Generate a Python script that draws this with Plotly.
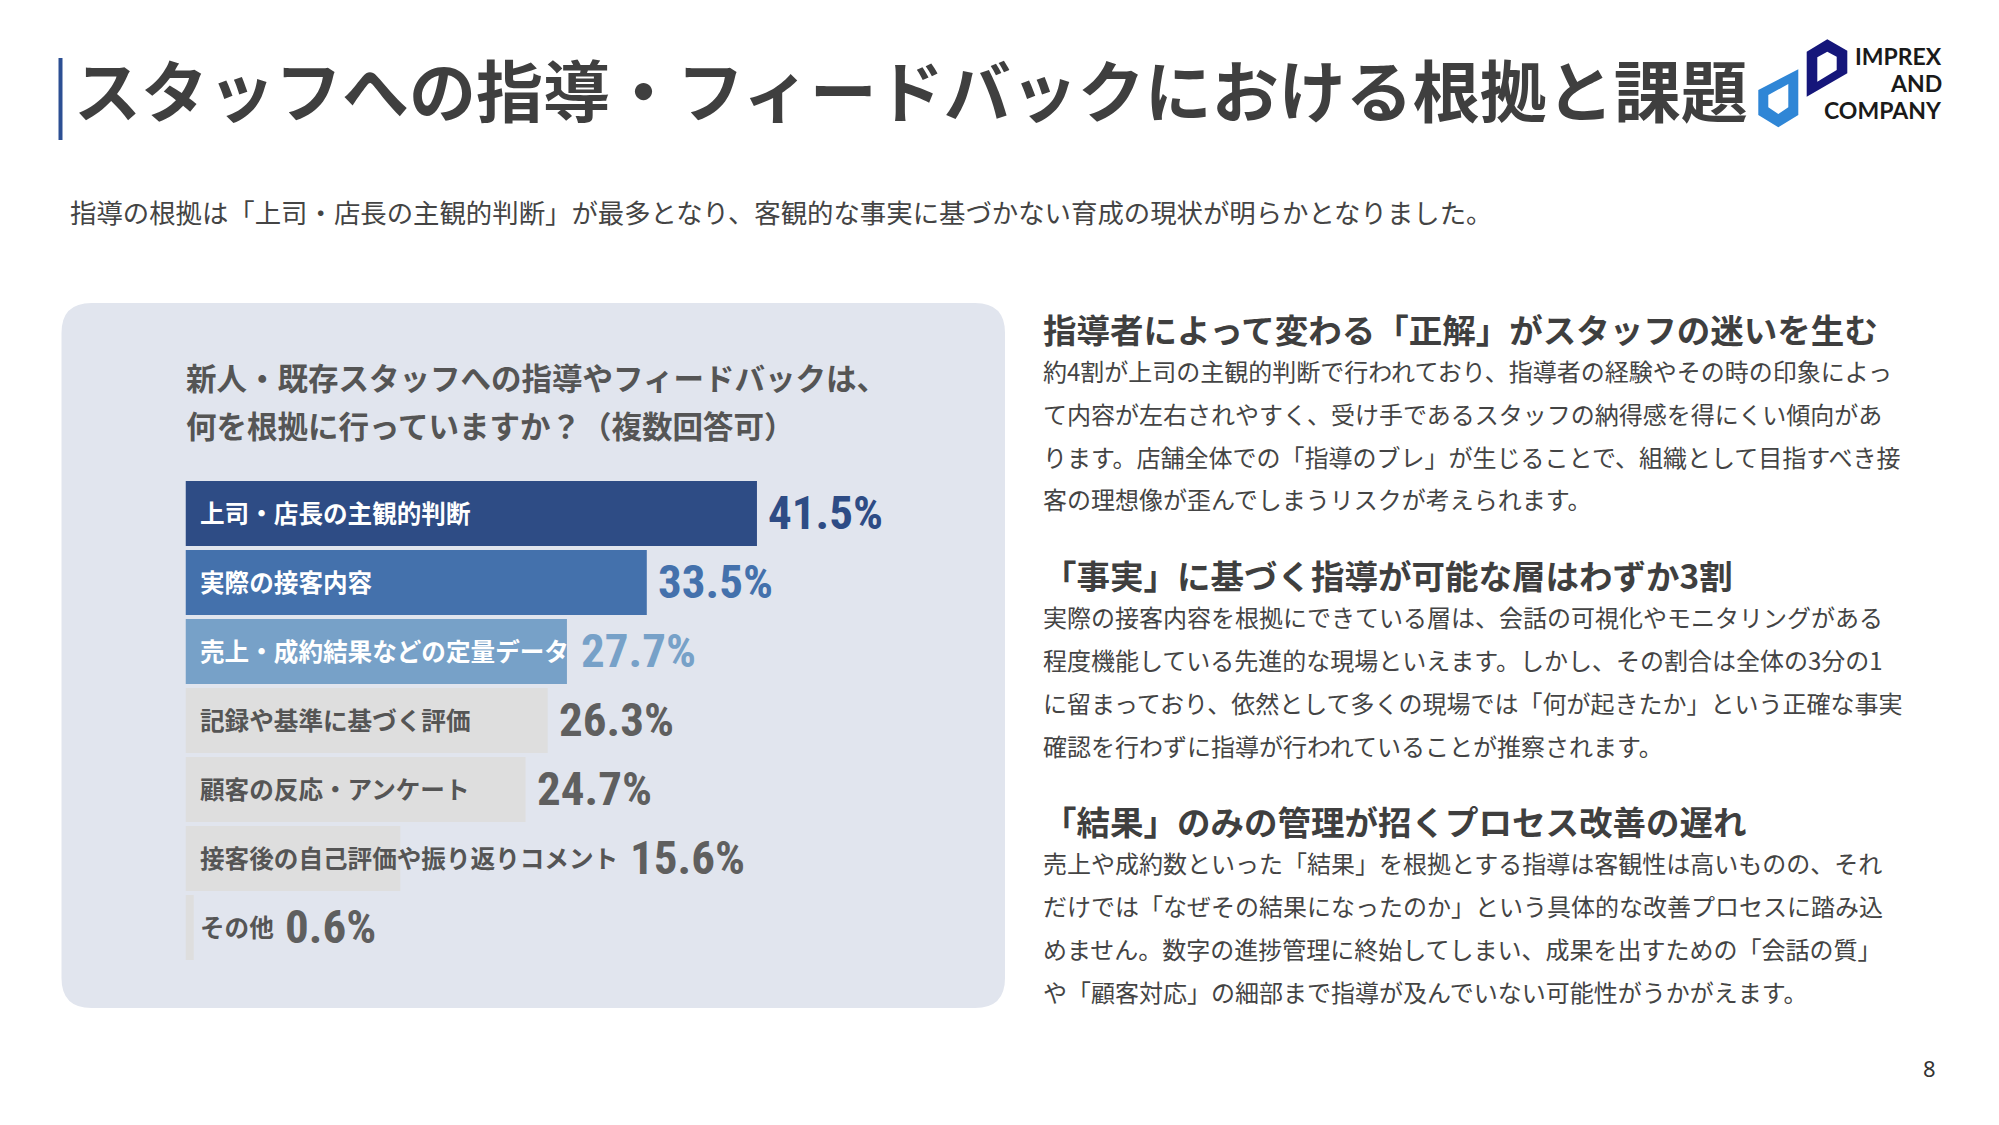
import plotly.graph_objects as go

W, H = 1999, 1125

# ---- data ----
categories = [
    "上司・店長の主観的判断",
    "実際の接客内容",
    "売上・成約結果などの定量データ",
    "記録や基準に基づく評価",
    "顧客の反応・アンケート",
    "接客後の自己評価や振り返りコメント",
    "その他",
]
values = [41.5, 33.5, 27.7, 26.3, 24.7, 15.6, 0.6]

title_text = "スタッフへの指導・フィードバックにおける根拠と課題"
lead_text = "指導の根拠は「上司・店長の主観的判断」が最多となり、客観的な事実に基づかない育成の現状が明らかとなりました。"
question_lines = ["新人・既存スタッフへの指導やフィードバックは、", "何を根拠に行っていますか？（複数回答可）"]

headings = [
    "指導者によって変わる「正解」がスタッフの迷いを生む",
    "「事実」に基づく指導が可能な層はわずか3割",
    "「結果」のみの管理が招くプロセス改善の遅れ",
]
sec1_lines = [
    "約4割が上司の主観的判断で行われており、指導者の経験やその時の印象によっ",
    "て内容が左右されやすく、受け手であるスタッフの納得感を得にくい傾向があ",
    "ります。店舗全体での「指導のブレ」が生じることで、組織として目指すべき接",
    "客の理想像が歪んでしまうリスクが考えられます。",
]
sec2_lines = [
    "実際の接客内容を根拠にできている層は、会話の可視化やモニタリングがある",
    "程度機能している先進的な現場といえます。しかし、その割合は全体の3分の1",
    "に留まっており、依然として多くの現場では「何が起きたか」という正確な事実",
    "確認を行わずに指導が行われていることが推察されます。",
]
sec3_lines = [
    "売上や成約数といった「結果」を根拠とする指導は客観性は高いものの、それ",
    "だけでは「なぜその結果になったのか」という具体的な改善プロセスに踏み込",
    "めません。数字の進捗管理に終始してしまい、成果を出すための「会話の質」",
    "や「顧客対応」の細部まで指導が及んでいない可能性がうかがえます。",
]
page_no = "8"

# ---- styles ----
JP = "Noto Sans CJK JP, Noto Sans, sans-serif"
NUM = "Roboto Condensed, Open Sans Condensed, Roboto, sans-serif"
bar_colors = ["#2e4c85", "#4471ac", "#77a1c8", "#dedede", "#dedede", "#dedede", "#dedede"]
label_colors = ["white", "white", "white", "#555555", "#555555", "#555555", "#555555"]
value_colors = ["#2e4c85", "#4471ac", "#77a1c8", "#5f5f5f", "#5f5f5f", "#5f5f5f", "#5f5f5f"]


def fx(x):
    return x / W


def fy(y):
    return 1 - y / H


# plot area in pixels
X0, X_RANGE, PX_PER = 185.5, 50, 13.77
X1 = X0 + X_RANGE * PX_PER
Y_TOP, Y_BOT = 479, 962

fig = go.Figure()

fig.add_trace(
    go.Bar(
        x=values,
        y=categories,
        orientation="h",
        marker=dict(color=bar_colors, line=dict(width=0)),
        hoverinfo="skip",
        showlegend=False,
    )
)

annotations = []

LABEL_SIZE = 24.6
LABEL_PAD = 12
for cat, v, lc, vc in zip(categories, values, label_colors, value_colors):
    annotations.append(dict(
        x=0, y=cat, xref="x", yref="y", text=cat, showarrow=False,
        xanchor="left", yanchor="middle", xshift=LABEL_PAD, yshift=2,
        font=dict(family=JP, size=LABEL_SIZE, color=lc, weight="bold")))
    label_end = LABEL_PAD + len(cat) * LABEL_SIZE
    start = max(v * PX_PER + 9, label_end + 12)
    annotations.append(dict(
        x=0, y=cat, xref="x", yref="y", text=f"{v}%", showarrow=False,
        xanchor="left", yanchor="middle", xshift=start, yshift=1,
        font=dict(family=NUM, size=47, color=vc, weight="bold")))

# title, lead
annotations.append(dict(
    x=fx(72), y=fy(87), xref="paper", yref="paper", text=title_text, showarrow=False,
    xanchor="left", yanchor="middle",
    font=dict(family=JP, size=67, color="#3f3f3f", weight="bold")))
annotations.append(dict(
    x=fx(68), y=fy(212), xref="paper", yref="paper", text=lead_text, showarrow=False,
    xanchor="left", yanchor="middle",
    font=dict(family=JP, size=26.4, color="#444444")))

# question
for i, line in enumerate(question_lines):
    annotations.append(dict(
        x=fx(184), y=fy(377 + 48 * i), xref="paper", yref="paper", text=line, showarrow=False,
        xanchor="left", yanchor="middle",
        font=dict(family=JP, size=30.5, color="#555555", weight="bold")))

# right column
for k, (head, lines) in enumerate(zip(headings, [sec1_lines, sec2_lines, sec3_lines])):
    hy = 328 + 246 * k
    annotations.append(dict(
        x=fx(1041), y=fy(hy), xref="paper", yref="paper", text=head, showarrow=False,
        xanchor="left", yanchor="middle",
        font=dict(family=JP, size=33.5, color="#3f3f3f", weight="bold")))
    for i, line in enumerate(lines):
        annotations.append(dict(
            x=fx(1041), y=fy(hy + 42 + 43 * i), xref="paper", yref="paper", text=line,
            showarrow=False, xanchor="left", yanchor="middle",
            font=dict(family=JP, size=24, color="#444444")))

# logo text
for i, word in enumerate(["IMPREX", "AND", "COMPANY"]):
    annotations.append(dict(
        x=fx(1944), y=fy(56 + 27 * i), xref="paper", yref="paper", text=word, showarrow=False,
        xanchor="right", yanchor="middle",
        font=dict(family="Lato, Noto Sans, sans-serif", size=23, color="#1a1a1a", weight="bold")))

annotations.append(dict(
    x=fx(1938), y=fy(1068), xref="paper", yref="paper", text=page_no, showarrow=False,
    xanchor="right", yanchor="middle",
    font=dict(family="Noto Sans, sans-serif", size=22, color="#333333")))


# rounded grey panel behind the chart
def rounded(x0, y0, x1, y1, r):
    pts = [
        f"M {fx(x0 + r)},{fy(y0)}",
        f"L {fx(x1 - r)},{fy(y0)}",
        f"Q {fx(x1)},{fy(y0)} {fx(x1)},{fy(y0 + r)}",
        f"L {fx(x1)},{fy(y1 - r)}",
        f"Q {fx(x1)},{fy(y1)} {fx(x1 - r)},{fy(y1)}",
        f"L {fx(x0 + r)},{fy(y1)}",
        f"Q {fx(x0)},{fy(y1)} {fx(x0)},{fy(y1 - r)}",
        f"L {fx(x0)},{fy(y0 + r)}",
        f"Q {fx(x0)},{fy(y0)} {fx(x0 + r)},{fy(y0)}",
        "Z",
    ]
    return " ".join(pts)


def poly(points):
    return "M " + " L ".join(f"{fx(x)},{fy(y)}" for x, y in points) + " Z"


shapes = [
    dict(type="path", xref="paper", yref="paper", path=rounded(61.5, 303, 1005, 1008, 30),
         fillcolor="#e1e5ee", line=dict(width=0), layer="below"),
    dict(type="rect", xref="paper", yref="paper", x0=fx(58.5), x1=fx(62.5), y0=fy(58), y1=fy(140),
         fillcolor="#2c4f93", line=dict(width=0)),
    # logo marks
    dict(type="path", xref="paper", yref="paper",
         path=poly([(1806.7, 51.7), (1827.3, 39.3), (1847.3, 50.7), (1847.3, 73.3), (1806.7, 96.7)])
         + " " + poly([(1817.3, 57.3), (1827.3, 51.7), (1836.7, 56.7), (1836.7, 70), (1817.3, 81.7)]),
         fillcolor="#15167a", line=dict(width=0), fillrule="evenodd"),
    dict(type="path", xref="paper", yref="paper",
         path=poly([(1758.3, 90), (1798.3, 69.3), (1798.3, 115), (1778.3, 127.3), (1758.3, 115)])
         + " " + poly([(1768.3, 95), (1788.3, 84), (1788.3, 107.3), (1778.3, 114), (1768.3, 107.3)]),
         fillcolor="#2f86d6", line=dict(width=0), fillrule="evenodd"),
]

fig.update_layout(
    width=W,
    height=H,
    margin=dict(l=0, r=0, t=0, b=0),
    paper_bgcolor="white",
    plot_bgcolor="rgba(0,0,0,0)",
    bargap=0.058,
    xaxis=dict(domain=[fx(X0), fx(X1)], range=[0, X_RANGE], visible=False, fixedrange=True),
    yaxis=dict(domain=[fy(Y_BOT), fy(Y_TOP)], autorange="reversed", visible=False,
               categoryorder="array", categoryarray=categories, fixedrange=True),
    annotations=annotations,
    shapes=shapes,
)

# the page's default body margin would push the figure off by 8px
fig.write_html("out.html", config=dict(displayModeBar=False),
               post_script="document.body.style.margin='0';")
